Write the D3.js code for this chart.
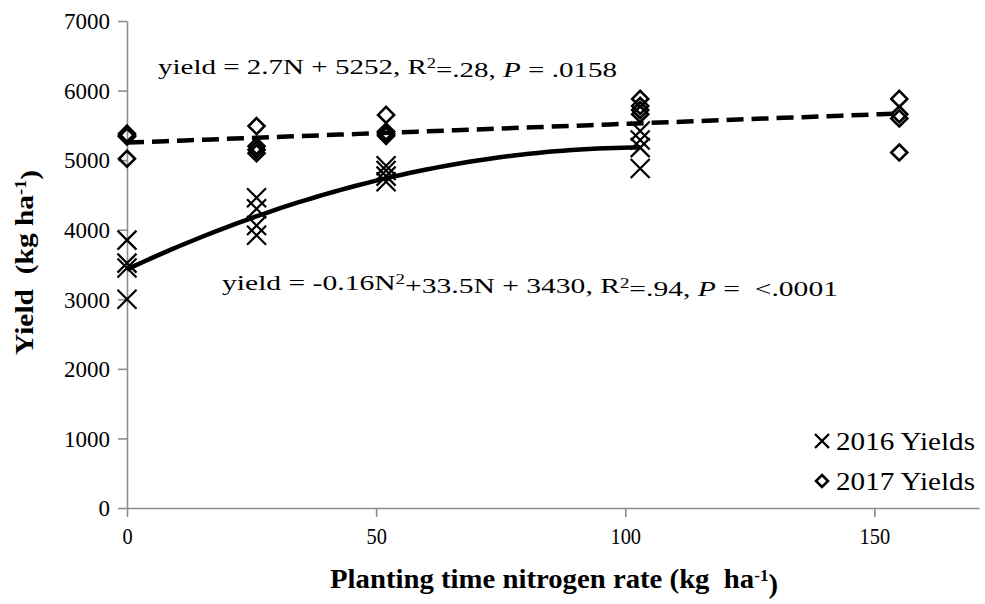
<!DOCTYPE html>
<html>
<head>
<meta charset="utf-8">
<script src="https://cdn.jsdelivr.net/npm/d3@7"></script>
<style>
  html, body { margin: 0; padding: 0; background: #fff; }
  svg { display: block; }
  text { font-family: "Liberation Serif", "Times New Roman", serif; fill: #000; white-space: pre; }
</style>
</head>
<body>
<svg id="chart" width="985" height="604"></svg>
<script>
// ---- data ----
const xTicks = [0, 50, 100, 150];
const yTicks = [0, 1000, 2000, 3000, 4000, 5000, 6000, 7000];
const rates2016 = [0, 26, 52, 103];
const yields2016 = [
  [3850, 3520, 3450, 3000],
  [4460, 4300, 4060, 3920],
  [4920, 4850, 4770, 4690],
  [5420, 5290, 5180, 4880]
];
const rates2017 = [0, 26, 52, 103, 155];
const yields2017 = [
  [5380, 5350, 5340, 5020],
  [5490, 5200, 5150, 5100],
  [5650, 5410, 5380, 5350],
  [5880, 5780, 5720, 5660],
  [5880, 5660, 5600, 5110]
];
const linearCoef = [5252, 2.7];          // 2017 trend
const linearRange = [0, 155];
const quadCoef = [3430, 33.5, -0.16];    // 2016 trend
const quadRange = [0, 103];
const legendLabels = ["2016 Yields", "2017 Yields"];

// ---- chart ----
const svg = d3.select("#chart");
const x = d3.scaleLinear().domain([0, 171]).range([127, 979]);
const y = d3.scaleLinear().domain([0, 7000]).range([508, 21]);
const axisColor = "#8c8c8c";
const FONT = "Liberation Serif";

// y axis
const yAxis = svg.append("g").attr("transform", `translate(${x(0)},0)`)
  .call(d3.axisLeft(y).tickValues(yTicks).tickFormat(d3.format("d"))
    .tickSize(9).tickSizeOuter(0).tickPadding(8));
yAxis.attr("font-family", FONT).attr("font-size", 23);
yAxis.select(".domain").attr("stroke", axisColor).attr("stroke-width", 1.6);
yAxis.selectAll(".tick line").attr("stroke", axisColor).attr("stroke-width", 1.6);
yAxis.selectAll(".tick text").attr("dy", "0.34em").attr("fill", "#000");

// x axis
const xAxis = svg.append("g").attr("transform", `translate(0,${y(0)})`)
  .call(d3.axisBottom(x).tickValues(xTicks).tickFormat(d3.format("d"))
    .tickSize(9).tickSizeOuter(0).tickPadding(10));
xAxis.attr("font-family", FONT).attr("font-size", 24);
xAxis.select(".domain").attr("stroke", axisColor).attr("stroke-width", 1.6);
xAxis.selectAll(".tick line").attr("stroke", axisColor).attr("stroke-width", 1.6);
xAxis.selectAll(".tick text").attr("dy", "0.72em").attr("fill", "#000")
  .attr("transform", "scale(0.85,1)");

// trend lines
const linPts = d3.range(0, 41).map(i => {
  const n = linearRange[0] + (linearRange[1] - linearRange[0]) * i / 40;
  return [n, linearCoef[0] + linearCoef[1] * n];
});
const quadPts = d3.range(0, 61).map(i => {
  const n = quadRange[0] + (quadRange[1] - quadRange[0]) * i / 60;
  return [n, quadCoef[0] + quadCoef[1] * n + quadCoef[2] * n * n];
});
const line = d3.line().x(d => x(d[0])).y(d => y(d[1]));

// markers
const xMark = (g, cx, cy, h, w) => {
  g.append("path")
    .attr("d", `M${cx - h},${cy - h}L${cx + h},${cy + h}M${cx - h},${cy + h}L${cx + h},${cy - h}`)
    .attr("stroke", "#000").attr("stroke-width", w || 2.2).attr("fill", "none");
};
const dMark = (g, cx, cy, h, w) => {
  g.append("path")
    .attr("d", `M${cx},${cy - h}L${cx + h},${cy}L${cx},${cy + h}L${cx - h},${cy}Z`)
    .attr("stroke", "#000").attr("stroke-width", w || 2.6).attr("fill", "none");
};

const pts = svg.append("g");
rates2017.forEach((r, i) => yields2017[i].forEach(v => dMark(pts, x(r), y(v), 8)));
rates2016.forEach((r, i) => yields2016[i].forEach(v => xMark(pts, x(r), y(v), 9.5)));

svg.append("path").datum(linPts).attr("d", line)
  .attr("fill", "none").attr("stroke", "#000").attr("stroke-width", 4.5)
  .attr("stroke-dasharray", "17,8");
svg.append("path").datum(quadPts).attr("d", line)
  .attr("fill", "none").attr("stroke", "#000").attr("stroke-width", 4.5);

// equations
function eq(xp, yp, parts, len) {
  const t = svg.append("text").attr("x", xp).attr("y", yp).attr("font-size", 22);
  parts.forEach(p => {
    const ts = t.append("tspan").text(p.t);
    if (p.sup) ts.attr("dy", "-0.4em").attr("font-size", 14);
    if (p.after) ts.attr("dy", "0.4em");
    if (p.it) ts.style("font-style", "italic");
  });
  t.attr("textLength", len).attr("lengthAdjust", "spacingAndGlyphs");
}
eq(158, 74, [
  {t: "yield = 2.7N + 5252, R"}, {t: "2", sup: true},
  {t: "=.28, ", after: true}, {t: "P", it: true}, {t: " = .0158"}
], 459);
eq(222, 290, [
  {t: "yield = -0.16N"}, {t: "2", sup: true},
  {t: "+33.5N + 3430, R", after: true}, {t: "2", sup: true},
  {t: "=.94, ", after: true}, {t: "P", it: true}, {t: " =  <.0001"}
], 616);

// legend
const lg = svg.append("g");
xMark(lg, 822, 441, 7, 2.4);
dMark(lg, 822, 481, 6, 2.6);
lg.append("text").attr("x", 836).attr("y", 450).attr("font-size", 25)
  .attr("textLength", 139).attr("lengthAdjust", "spacingAndGlyphs").text(legendLabels[0]);
lg.append("text").attr("x", 836).attr("y", 490).attr("font-size", 25)
  .attr("textLength", 139).attr("lengthAdjust", "spacingAndGlyphs").text(legendLabels[1]);

// axis titles
const yt = svg.append("text")
  .attr("transform", "translate(33,170) rotate(-90)")
  .attr("x", -185).attr("font-size", 26).attr("font-weight", "bold");
yt.append("tspan").text("Yield  (kg ha");
yt.append("tspan").text("-1").attr("dy", "-0.45em").attr("font-size", 16);
yt.append("tspan").text(")").attr("dy", "0.45em");
yt.attr("textLength", 185).attr("lengthAdjust", "spacingAndGlyphs");

const xt = svg.append("text").attr("x", 330).attr("y", 588)
  .attr("font-size", 27).attr("font-weight", "bold");
xt.append("tspan").text("Planting time nitrogen rate (kg  ha");
xt.append("tspan").text("-1").attr("dy", "-0.45em").attr("font-size", 16);
xt.append("tspan").text(")").attr("dy", "0.45em");
xt.attr("textLength", 448).attr("lengthAdjust", "spacingAndGlyphs");
</script>
</body>
</html>
